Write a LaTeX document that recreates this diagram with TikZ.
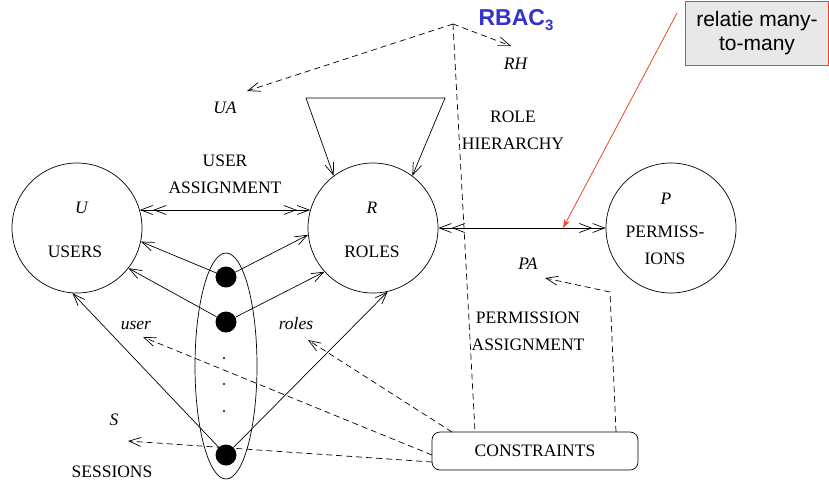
\documentclass[tikz,border=0pt]{standalone}
\usepackage{fontspec}
\setmainfont{Liberation Serif}
\newfontfamily\notefont{Liberation Sans}
\usetikzlibrary{arrows.meta,shapes.geometric}
\definecolor{rbacblue}{RGB}{51,51,204}
\definecolor{noteline}{RGB}{235,70,35}
\definecolor{notefill}{RGB}{232,232,232}

\tikzset{
  setcirc/.style={draw,circle,minimum size=130pt,inner sep=0pt},
  sessdot/.style={circle,fill=black,minimum size=21pt,inner sep=0pt},
  lbl/.style={inner sep=0pt,align=center},
  dsh/.style={dash pattern=on 6pt off 4pt},
  manymany/.style={{Straight Barb[length=12pt,width=9pt]Straight Barb[length=12pt,width=9pt]}-{Straight Barb[length=12pt,width=9pt]Straight Barb[length=12pt,width=9pt]}},
}

\begin{document}
\begin{tikzpicture}[x=1pt,y=-1pt,line width=0.7pt,
    >={Straight Barb[length=12pt,width=9pt]},
    font=\fontsize{17.5}{27}\selectfont]
  \useasboundingbox (0,0) rectangle (829,483);
  % sets
  \node[setcirc] (U) at (77,228) {};
  \node[setcirc] (R) at (373,228) {};
  \node[setcirc] (P) at (671,228) {};
  \node[lbl] (ulbl) at (82,208) {\textit{U}};
  \node[lbl] (users) at (75,252) {USERS};
  \node[lbl] (rlbl) at (372,208) {\textit{R}};
  \node[lbl] (roles) at (372,252) {ROLES};
  \node[lbl] (plbl) at (666,199) {\textit{P}};
  \node[lbl] (perms) at (665,245) {PERMISS-\\IONS};
  % sessions
  \node[draw,ellipse,minimum width=62pt,minimum height=226pt,inner sep=0pt] (sess) at (226,366) {};
  \node[sessdot] (d1) at (226,277) {};
  \node[sessdot] (d2) at (226,322) {};
  \node[sessdot] (d3) at (226,455) {};
  \foreach \y in {358,384,411}
    \fill (224,\y) circle (1.2);
  \draw[->] (d1) -- (U.-12);
  \draw[->] (d1) -- (R.186);
  \draw[->] (d2) -- (U.-38);
  \draw[->] (d2) -- (R.222);
  \draw[->] (d3) -- (U.-94);
  \draw[->] (d3) -- (R.-77);
  % assignments
  \draw[manymany] (U.16) -- (R.164);
  \draw[manymany] (R.east) -- (P.west);
  \coordinate (rhl) at (306,98);
  \coordinate (rhr) at (445,98);
  \draw[<->] (R.127) -- (rhl) -- (rhr) -- (R.53);
  \node[lbl] (ualabel) at (225,174) {USER\\ASSIGNMENT};
  \node[lbl] (rhlabel) at (513,130) {ROLE\\HIERARCHY};
  \node[lbl] (palabel) at (528,331) {PERMISSION\\ASSIGNMENT};
  \node[lbl] (ua) at (225,108) {\textit{UA}};
  \node[lbl] (rh) at (516,64) {\textit{RH}};
  \node[lbl] (pa) at (528,264) {\textit{PA}};
  \node[lbl] (usr) at (136,325) {\textit{user}};
  \node[lbl] (rls) at (296,324) {\textit{roles}};
  \node[lbl] (s) at (114,420) {\textit{S}};
  \node[lbl] (sessions) at (112,472) {SESSIONS};
  % RBAC3 and constraints
  \node[text=rbacblue,font=\notefont\bfseries\fontsize{23}{23}\selectfont] (rbac) at (516,20) {RBAC\raisebox{-5pt}{\fontsize{15}{15}\selectfont 3}};
  \node[draw,rounded corners=8pt,minimum width=206pt,minimum height=38pt] (cons) at (535,451) {CONSTRAINTS};
  \coordinate (apex) at (453,24);
  \coordinate (uatip) at (247,91);
  \coordinate (rhtip) at (511,46);
  \coordinate (rhfoot) at (475,432);
  \coordinate (pafoot) at (616,432);
  \coordinate (pabend) at (610,292);
  \coordinate (patip) at (545,278);
  \coordinate (rolefoot) at (452,432);
  \coordinate (rolestip) at (308,340);
  \coordinate (userfoot) at (432,455);
  \coordinate (usertip) at (143,337);
  \coordinate (sfoot) at (432,462);
  \coordinate (stip) at (128,441);
  \draw[dsh,->] (apex) -- (uatip);
  \draw[dsh,->] (apex) -- (rhtip);
  \draw[dsh] (apex) -- (rhfoot);
  \draw[dsh,->] (pafoot) -- (pabend) -- (patip);
  \draw[dsh,->] (rolefoot) -- (rolestip);
  \draw[dsh,->] (userfoot) -- (usertip);
  \draw[dsh,->] (sfoot) -- (stip);
  % callout
  \node[draw=noteline,fill=notefill,line width=0.8pt,align=center,
        minimum width=143pt,minimum height=64pt,
        font=\notefont\fontsize{21}{24}\selectfont] (note) at (757,33) {relatie many-\\to-many};
  \coordinate (notestart) at (677,13);
  \coordinate (notetip) at (563,228);
  \draw[noteline,line width=0.8pt,-{Stealth[length=9pt,width=6pt]}] (notestart) -- (notetip);
\end{tikzpicture}
\end{document}
